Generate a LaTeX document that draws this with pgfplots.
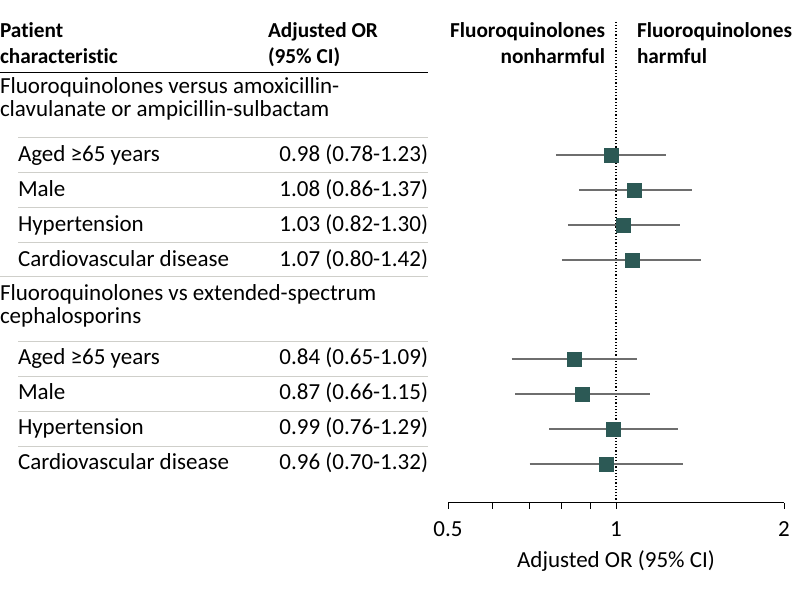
\documentclass[border=0pt]{standalone}
\usepackage{fontspec}
\setmainfont[Ligatures=NoCommon]{Carlito}
\usepackage{pgfplots}
\pgfplotsset{compat=1.18}
\definecolor{mark}{HTML}{2C5955}
\definecolor{ci}{HTML}{6E6E6E}
\definecolor{sep}{HTML}{CFCFCA}
\newcommand{\fs}{\fontsize{23}{26}\selectfont}
\newcommand{\hs}{\fontsize{21.3}{25}\selectfont\bfseries}
\begin{document}
\fs
\begin{tikzpicture}[every node/.style={inner sep=0pt, outer sep=0pt}]
\useasboundingbox (0,-590pt) rectangle (798pt,0);
% left table headers
\node[anchor=base west, font=\hs] at (0,-37.3pt) {Patient};
\node[anchor=base west, font=\hs] at (0,-63.3pt) {characteristic};
\node[anchor=base west, font=\hs] at (268pt,-37.3pt) {Adjusted OR};
\node[anchor=base west, font=\hs] at (268pt,-63.3pt) {(95\% CI)};
\draw[line width=1.5pt] (0,-72.5pt) -- (428pt,-72.5pt);
% group 1
\node[anchor=base west] at (0,-93.3pt) {Fluoroquinolones versus amoxicillin-};
\node[anchor=base west] at (0,-116pt) {clavulanate or ampicillin-sulbactam};
\foreach \y in {137.3,172.3,207.3,242.3,341,376,411,446} \draw[sep, line width=1pt] (18pt,-\y pt) -- (428pt,-\y pt);
\draw[sep, line width=1pt] (0,-276.7pt) -- (428pt,-276.7pt);
\node[anchor=base west] at (18pt,-161pt) {Aged ≥65 years};
\node[anchor=base east] at (428pt,-161pt) {0.98 (0.78-1.23)};
\node[anchor=base west] at (18pt,-196pt) {Male};
\node[anchor=base east] at (428pt,-196pt) {1.08 (0.86-1.37)};
\node[anchor=base west] at (18pt,-231pt) {Hypertension};
\node[anchor=base east] at (428pt,-231pt) {1.03 (0.82-1.30)};
\node[anchor=base west] at (18pt,-266pt) {Cardiovascular disease};
\node[anchor=base east] at (428pt,-266pt) {1.07 (0.80-1.42)};
% group 2
\node[anchor=base west] at (0,-300pt) {Fluoroquinolones vs extended-spectrum};
\node[anchor=base west] at (0,-323.3pt) {cephalosporins};
\node[anchor=base west] at (18pt,-364.3pt) {Aged ≥65 years};
\node[anchor=base east] at (428pt,-364.3pt) {0.84 (0.65-1.09)};
\node[anchor=base west] at (18pt,-399.3pt) {Male};
\node[anchor=base east] at (428pt,-399.3pt) {0.87 (0.66-1.15)};
\node[anchor=base west] at (18pt,-434.3pt) {Hypertension};
\node[anchor=base east] at (428pt,-434.3pt) {0.99 (0.76-1.29)};
\node[anchor=base west] at (18pt,-469.3pt) {Cardiovascular disease};
\node[anchor=base east] at (428pt,-469.3pt) {0.96 (0.70-1.32)};
% right headers
\node[anchor=base east, font=\hs] at (605pt,-37pt) {Fluoroquinolones};
\node[anchor=base east, font=\hs] at (605pt,-63pt) {nonharmful};
\node[anchor=base west, font=\hs] at (637pt,-37pt) {Fluoroquinolones};
\node[anchor=base west, font=\hs] at (637pt,-63pt) {harmful};
\begin{axis}[
  at={(448pt,-502.7pt)}, anchor=south west,
  scale only axis, width=336pt, height=482.7pt,
  xmode=log, xmin=0.5, xmax=2, ymin=-502.7, ymax=-20,
  axis x line*=bottom, axis y line=none,
  axis line style={line width=1pt, black},
  xtick={0.5,1,2}, xticklabels={0.5,1,2},
  minor xtick={0.6,0.7,0.8,0.9},
  tick align=outside, major tick length=6pt, minor tick length=6pt,
  every tick/.style={black, line width=1pt},
  ytick=\empty,
  /pgf/number format/assume math mode=true,
  xticklabel style={font=\fs, anchor=base, yshift=-28pt, inner sep=0pt},
  xlabel={Adjusted OR (95\% CI)},
  xlabel style={at={(axis description cs:0.5,0)}, anchor=base, yshift=-64.5pt, font=\fs, inner sep=0pt},
  clip=false,
]
\addplot[black, line width=1.2pt, dash pattern=on 1.2pt off 2pt] coordinates {(1,-502.7) (1,-20)};
% confidence intervals
\addplot[ci, line width=1.3pt] coordinates {(0.78,-155) (1.23,-155)};
\addplot[ci, line width=1.3pt] coordinates {(0.86,-190) (1.37,-190)};
\addplot[ci, line width=1.3pt] coordinates {(0.82,-225) (1.30,-225)};
\addplot[ci, line width=1.3pt] coordinates {(0.80,-260) (1.42,-260)};
\addplot[ci, line width=1.3pt] coordinates {(0.65,-359) (1.09,-359)};
\addplot[ci, line width=1.3pt] coordinates {(0.66,-394) (1.15,-394)};
\addplot[ci, line width=1.3pt] coordinates {(0.76,-429) (1.29,-429)};
\addplot[ci, line width=1.3pt] coordinates {(0.70,-464) (1.32,-464)};
% point estimates
\addplot[only marks, mark=square*, mark size=7pt, mark options={fill=mark, draw=mark, line width=0.4pt}]
  coordinates {(0.98,-155) (1.08,-190) (1.03,-225) (1.07,-260) (0.84,-359) (0.87,-394) (0.99,-429) (0.96,-464)};
\end{axis}
\end{tikzpicture}
\end{document}
